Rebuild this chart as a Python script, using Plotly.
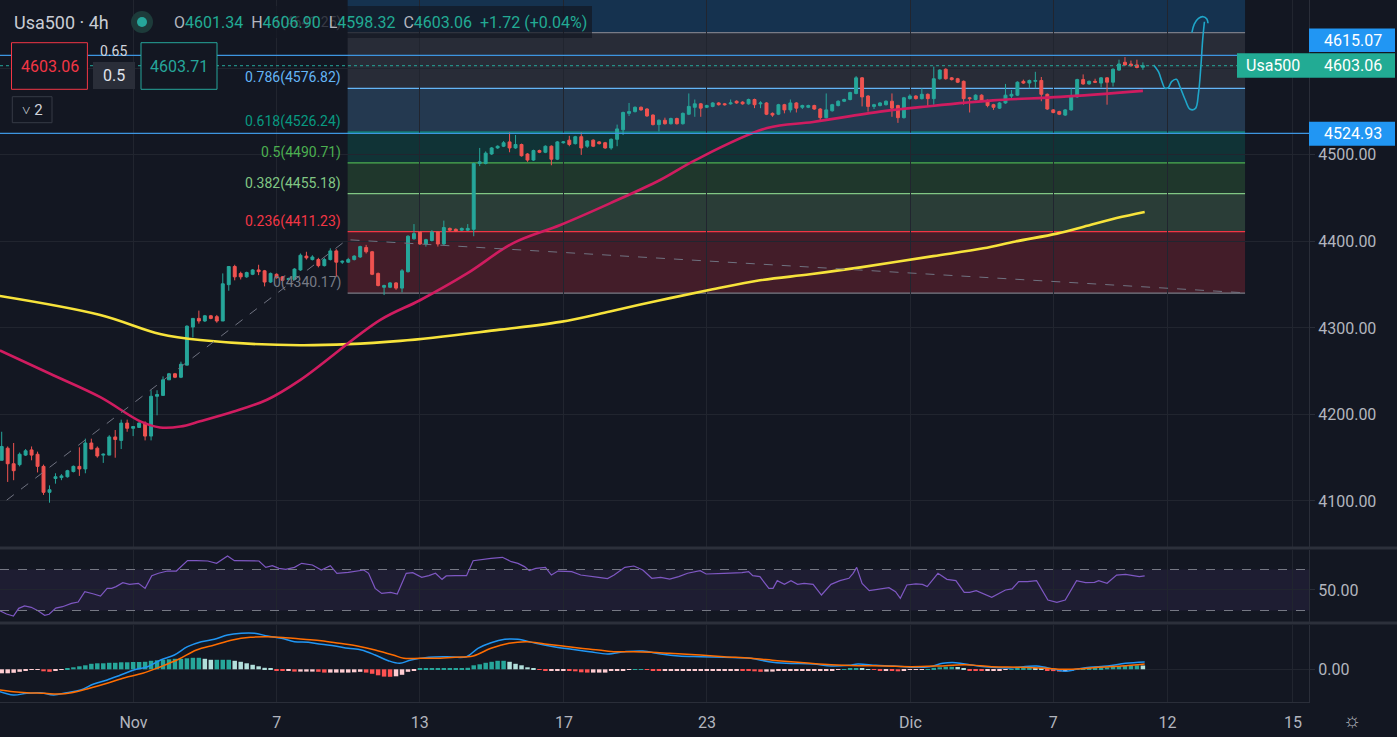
import plotly.graph_objects as go

# ---- 4h candles (bar index 0 = first visible bar) ----
opens = [4147, 4161, 4143, 4142, 4153, 4159, 4154, 4140, 4110, 4126,
         4127, 4128, 4134, 4140, 4137, 4167, 4161, 4153, 4153, 4174,
         4170, 4190, 4184, 4185, 4190, 4175, 4221, 4222, 4240, 4247,
         4243, 4257, 4301, 4311, 4308, 4314, 4313, 4308, 4350, 4371,
         4363, 4359, 4362, 4367, 4366, 4353, 4362, 4359, 4356, 4356,
         4367, 4383, 4379, 4379, 4372, 4379, 4389, 4376, 4376, 4379,
         4382, 4393, 4388, 4363, 4347, 4347, 4352, 4346, 4365, 4403,
         4411, 4397, 4401, 4411, 4397, 4415, 4414, 4413, 4413, 4414,
         4490, 4490, 4501, 4508, 4510, 4515, 4508, 4512, 4501, 4494,
         4505, 4503, 4510, 4495, 4514, 4517, 4513, 4521, 4510, 4517,
         4515, 4514, 4508, 4518, 4529, 4548, 4550, 4555, 4553, 4546,
         4535, 4540, 4536, 4542, 4536, 4547, 4555, 4559, 4555, 4556,
         4560, 4559, 4559, 4562, 4561, 4559, 4564, 4559, 4560, 4548,
         4547, 4558, 4552, 4560, 4555, 4555, 4557, 4553, 4543, 4551,
         4557, 4562, 4564, 4571, 4589, 4568, 4556, 4557, 4558, 4562,
         4557, 4543, 4565, 4568, 4565, 4570, 4565, 4588, 4599, 4589,
         4588, 4585, 4566, 4564, 4569, 4563, 4558, 4554, 4560, 4568,
         4569, 4585, 4583, 4585, 4586, 4570, 4552, 4550, 4546, 4552,
         4567, 4587, 4582, 4585, 4583, 4589, 4584, 4598, 4607, 4605,
         4604, 4601.34]
highs = [4180, 4163, 4167, 4156, 4160, 4163, 4157, 4142, 4118, 4132,
         4131, 4136, 4141, 4162, 4172, 4172, 4163, 4155, 4176, 4182,
         4194, 4194, 4186, 4191, 4192, 4228, 4228, 4244, 4248, 4248,
         4261, 4303, 4311, 4320, 4315, 4315, 4315, 4363, 4371, 4373,
         4365, 4365, 4368, 4373, 4367, 4364, 4363, 4360, 4358, 4369,
         4386, 4388, 4384, 4381, 4381, 4392, 4391, 4378, 4381, 4384,
         4395, 4396, 4389, 4364, 4350, 4353, 4353, 4368, 4407, 4420,
         4412, 4403, 4413, 4412, 4424, 4416, 4415, 4416, 4420, 4491,
         4508, 4504, 4509, 4511, 4516, 4526, 4523, 4513, 4502, 4506,
         4506, 4511, 4511, 4516, 4516, 4522, 4522, 4526, 4517, 4518,
         4516, 4515, 4519, 4535, 4550, 4560, 4556, 4556, 4554, 4547,
         4541, 4543, 4543, 4543, 4549, 4571, 4564, 4560, 4558, 4561,
         4561, 4560, 4564, 4563, 4562, 4565, 4565, 4562, 4561, 4549,
         4559, 4559, 4564, 4561, 4558, 4558, 4558, 4554, 4571, 4559,
         4563, 4565, 4573, 4591, 4590, 4569, 4559, 4561, 4563, 4571,
         4558, 4567, 4570, 4569, 4577, 4571, 4602, 4599, 4600, 4590,
         4589, 4586, 4567, 4570, 4570, 4564, 4559, 4561, 4582, 4575,
         4585, 4587, 4587, 4596, 4590, 4571, 4553, 4551, 4553, 4577,
         4588, 4593, 4586, 4588, 4590, 4590, 4600, 4610, 4613, 4609,
         4610, 4606.90]
lows = [4147, 4122, 4124, 4140, 4152, 4147, 4133, 4107, 4098, 4120,
        4124, 4127, 4133, 4129, 4132, 4160, 4150, 4144, 4153, 4150,
        4160, 4180, 4175, 4185, 4170, 4170, 4199, 4222, 4240, 4242,
        4242, 4257, 4289, 4305, 4307, 4310, 4306, 4308, 4343, 4355,
        4356, 4358, 4361, 4361, 4348, 4352, 4357, 4354, 4355, 4355,
        4366, 4379, 4378, 4370, 4371, 4378, 4359, 4374, 4375, 4378,
        4381, 4386, 4361, 4348, 4338, 4346, 4344, 4341, 4364, 4402,
        4396, 4394, 4400, 4394, 4396, 4412, 4411, 4412, 4412, 4406,
        4487, 4489, 4500, 4507, 4509, 4503, 4507, 4498, 4492, 4493,
        4502, 4502, 4488, 4494, 4513, 4510, 4512, 4500, 4508, 4509,
        4512, 4507, 4506, 4510, 4523, 4545, 4549, 4551, 4544, 4534,
        4527, 4535, 4535, 4535, 4535, 4546, 4544, 4544, 4554, 4555,
        4557, 4557, 4558, 4559, 4558, 4558, 4554, 4554, 4546, 4544,
        4546, 4548, 4549, 4549, 4553, 4554, 4552, 4540, 4542, 4550,
        4556, 4561, 4563, 4570, 4556, 4550, 4553, 4556, 4557, 4544,
        4537, 4542, 4564, 4564, 4564, 4556, 4558, 4587, 4587, 4586,
        4583, 4558, 4549, 4563, 4561, 4555, 4552, 4553, 4559, 4564,
        4568, 4582, 4577, 4577, 4562, 4552, 4548, 4546, 4545, 4551,
        4566, 4581, 4581, 4583, 4578, 4558, 4579, 4597, 4603, 4602,
        4600, 4598.32]
closes = [4163, 4143, 4135, 4154, 4158, 4153, 4140, 4110, 4113, 4128,
          4129, 4135, 4140, 4137, 4167, 4160, 4152, 4154, 4174, 4171,
          4190, 4184, 4186, 4190, 4175, 4221, 4223, 4240, 4247, 4243,
          4258, 4302, 4311, 4308, 4314, 4311, 4308, 4351, 4371, 4359,
          4359, 4364, 4367, 4365, 4353, 4363, 4358, 4355, 4357, 4368,
          4384, 4381, 4382, 4372, 4379, 4389, 4376, 4377, 4379, 4383,
          4394, 4388, 4362, 4349, 4349, 4352, 4346, 4366, 4406, 4409,
          4397, 4402, 4411, 4397, 4416, 4413, 4412, 4415, 4415, 4490,
          4492, 4502, 4508, 4510, 4514, 4508, 4512, 4499, 4494, 4505,
          4503, 4510, 4495, 4515, 4515, 4512, 4521, 4508, 4516, 4510,
          4513, 4508, 4518, 4530, 4549, 4550, 4555, 4552, 4545, 4535,
          4540, 4536, 4542, 4536, 4548, 4556, 4559, 4554, 4557, 4560,
          4558, 4558, 4560, 4560, 4559, 4564, 4558, 4560, 4547, 4546,
          4558, 4552, 4560, 4554, 4557, 4557, 4553, 4543, 4552, 4558,
          4562, 4564, 4572, 4589, 4567, 4556, 4558, 4560, 4562, 4554,
          4543, 4566, 4568, 4565, 4570, 4565, 4588, 4598, 4588, 4587,
          4584, 4565, 4565, 4569, 4562, 4557, 4555, 4560, 4569, 4570,
          4584, 4583, 4586, 4586, 4570, 4553, 4549, 4547, 4552, 4568,
          4587, 4582, 4585, 4584, 4589, 4584, 4599, 4605, 4604, 4603,
          4601, 4603.06]

# ---- moving averages (sampled along the drawn curves) ----
ma_fast_x = [-0.3, 8.1, 16.5, 23.2, 26.5, 29.9, 33.2, 38.7, 44.4, 50.0, 63.3, 70.0,
             77.9, 85.6, 93.5, 101.8, 110.2, 116.1, 128.1, 135.8, 147.0, 154.9, 165.9,
             177.2, 191.0]
ma_fast = [4274, 4247, 4220, 4192, 4185, 4186, 4192, 4203, 4217, 4240, 4309, 4332,
           4363, 4398, 4419, 4444, 4471, 4494, 4531, 4538, 4550, 4556, 4563,
           4567, 4574]
ma_slow_x = [-0.3, 16.5, 26.5, 33.2, 50.0, 66.7, 83.4, 93.5, 101.8, 110.2, 118.6,
             126.9, 135.3, 143.7, 155.9, 164.3, 169.7, 176.6, 181.1, 186.6, 191.3]
ma_slow = [4337, 4315, 4293, 4286, 4280, 4285, 4298, 4307, 4319, 4332, 4344,
           4355, 4362, 4370, 4383, 4392, 4400, 4409, 4417, 4427, 4434]

# ---- RSI ----
rsi_x = [-0.3, 0.8, 1.96, 2.85, 3.83, 4.95, 6.07, 7.19, 7.93, 9.06, 10.18, 11.67, 12.79,
         13.91, 15.41, 16.53, 17.65, 18.4, 19.14, 20.27, 21.39, 22.88, 24.0, 25.12, 26.24,
         27.74, 29.23, 31.1, 32.6, 34.5, 35.96, 37.8, 38.95, 40.8, 43.06, 44.2, 45.3, 46.4,
         47.54, 49.0, 50.2, 52.0, 53.5, 55.0, 56.1, 58.0, 59.5, 60.6, 61.4, 62.5, 63.6, 65.1,
         66.2, 67.7, 68.8, 70.3, 71.5, 72.6, 73.7, 74.4, 75.9, 77.8, 78.9, 80.4, 81.9, 83.8,
         85.3, 86.4, 87.5, 88.3, 89.4, 91.0, 92.0, 93.1, 95.4, 96.9, 98.4, 99.9, 101.4, 102.5,
         104.3, 105.8, 107.3, 108.8, 110.3, 111.8, 113.3, 114.8, 116.9,
         117.9, 120.9, 123.9, 125.0, 125.7, 126.9, 128.4, 129.1, 129.8, 131.0, 132.1, 133.2,
         134.3, 135.8, 137.2, 138.8, 140.3, 141.8, 142.5, 143.1, 144.0, 145.2, 147.0, 148.5,
         149.6, 150.4, 151.5, 153.0, 154.1, 154.9, 156.7, 158.2, 159.7, 161.1, 162.0, 163.1,
         165.7, 168.0, 169.1, 170.2, 171.7, 173.2, 175.1, 176.6, 178.0, 179.9, 181.4, 182.9,
         183.6, 185.0, 186.6, 188.1, 190.4, 191.3]
rsi = [29.8, 26.6, 24.6, 32.1, 34.4, 33.1, 29.8, 25.3, 26.3, 32.4, 33.7, 37.0, 38.3,
       48.4, 46.1, 44.1, 51.6, 51.6, 53.3, 57.2, 55.5, 56.5, 51.6, 64.0, 66.3,
       68.5, 68.5, 78.6, 78.6, 78.3, 76.0, 83.2, 78.6, 78.6, 78.3, 72.1, 73.7, 71.1,
       70.2, 72.1, 76.0, 74.4, 69.5, 73.7, 66.3, 67.2, 68.5, 69.5, 66.3, 51.6, 46.7, 47.7,
       46.1, 66.3, 66.9, 62.4, 64.0, 66.3, 60.4, 63.7, 64.0, 64.0, 78.6, 79.9, 80.9, 81.9,
       77.6, 76.0, 72.8, 68.9, 71.1, 72.1, 64.6, 68.5, 67.9, 64.6, 63.7, 62.4, 61.1, 64.6,
       72.1, 73.4, 69.5, 61.4, 62.4, 60.7, 63.0, 66.3, 68.9,
       65.6, 66.3, 66.9, 67.9, 64.0, 63.0, 51.6, 51.6, 59.1, 55.5, 59.1, 55.5,
       56.5, 55.5, 45.1, 55.5, 59.1, 61.4, 66.3, 72.1, 56.5, 49.3, 50.7, 52.3,
       48.4, 41.9, 54.9, 55.9, 55.5, 53.3, 66.3, 60.4, 59.1, 47.7, 47.7, 49.3,
       42.8, 50.0, 51.0, 58.1, 58.1, 59.1, 40.2, 38.0, 40.2, 59.1, 57.2, 57.5,
       59.1, 56.5, 64.6, 65.3, 63.0, 63.7]

# ---- MACD ----
macd_x = [-0.3, 1.96, 4.2, 6.4, 8.7, 10.9, 13.2, 15.4, 17.65, 19.9, 22.1, 24.4, 26.6, 28.9,
          31.1, 33.4, 35.6, 37.8, 40.1, 42.3, 44.5, 46.8, 49.0, 51.3, 53.5, 55.8, 58.0, 60.2,
          62.5, 64.7, 66.6, 68.5, 71.5, 74.4, 77.8, 79.7, 81.9, 84.2, 86.4, 89.4, 92.4, 95.4,
          98.4, 101.4, 104.3, 107.3, 110.3, 113.3, 116.9,
          120.9, 125.4, 128.4, 131.3, 135.8, 138.8, 141.8, 143.3, 146.3, 149.3, 152.3, 155.3,
          157.5, 159.7, 162.7, 165.7, 168.7, 173.2, 176.2, 178.0, 179.9, 182.1, 185.1, 188.1,
          191.3]
macd = [-22.4, -25.7, -24.0, -23.4, -25.7, -23.4, -20.7, -14.7, -10.7, -5.7, -0.7, 2.6, 9.3,
        14.3, 22.6, 27.6, 30.0, 34.3, 36.0, 36.0, 33.3, 31.0, 27.6, 27.0, 25.0, 23.3, 21.0,
        19.3, 14.3, 8.6, 6.0, 9.3, 12.0, 12.6, 12.6, 21.0, 26.6, 30.0, 30.0, 26.0, 22.6, 20.0,
        17.6, 15.3, 17.6, 18.3, 15.3, 13.3, 12.6,
        12.0, 11.0, 7.6, 6.0, 5.3, 3.3, 4.0, 5.3, 4.0, 3.3, 2.0, 2.6,
        6.0, 6.6, 4.0, 2.0, 1.3, 3.3, 0.0, -2.0, 0.0, 2.0, 3.3, 6.0, 7.3]
signal_x = [-0.3, 1.96, 4.2, 7.2, 9.4, 11.7, 14.7, 17.65, 20.6, 23.6, 26.6, 29.6, 32.6, 35.6,
            38.6, 41.6, 44.5, 47.5, 50.5, 53.5, 56.5, 59.5, 62.5, 65.5, 67.3, 70.0, 73.0, 75.9,
            78.9, 81.9, 84.9, 87.9, 90.9, 93.9, 96.9, 99.9, 102.8, 105.8, 108.8, 111.8, 116.9,
            120.9, 125.4, 129.8, 134.3, 138.8, 143.3, 147.8, 152.3, 156.7, 161.2, 165.7, 170.2,
            174.7, 177.7, 180.7, 183.6, 187.4, 191.3]
signal = [-20.7, -22.4, -23.4, -24.0, -24.7, -23.4, -19.0, -14.0, -8.4, -4.0, 2.6, 10.0, 19.3,
          24.3, 29.3, 32.0, 32.6, 31.6, 30.0, 28.6, 26.0, 23.3, 19.3, 14.3, 11.0, 11.0, 11.0,
          12.0, 13.3, 21.0, 26.0, 27.6, 25.3, 23.3, 21.0, 19.3, 17.6, 17.6, 17.0, 16.0, 14.3,
          12.6, 11.0, 8.6, 6.6, 4.6, 3.6, 3.3, 2.6, 3.3, 4.6, 2.6, 2.0,
          1.0, 0.0, 0.6, 2.0, 3.3, 5.3]
hist = [-4, -4, -3.5, -2.5, -1, -0.5, -0.5, -2, -2.5, -1.5,
        -0.5, 1, 2, 3, 4, 5.5, 6, 6, 6.5, 6.5,
        7, 7, 7.3, 7.3, 7.5, 8.5, 9, 9.5, 10, 10.5,
        10.5, 11, 11.5, 11.5, 10.5, 9.5, 9.5, 9.5, 9.5, 8.5,
        7.5, 6, 4.5, 3, 1.5, 0.5, -1, -1.7, -1.7, -2.3,
        -2.3, -2.3, -2.3, -2.5, -3.3, -3.3, -3.3, -3.3, -3.3, -3,
        -2.5, -3.3, -4.5, -6, -7.3, -7.5, -7, -5.5, -2.5, -1,
        0.5, 1, 1, 1, 1, 1, 1, 1, 1.5, 4,
        5, 6.5, 7.5, 8.5, 8.5, 7.5, 5.5, 4, 2, 0.5,
        -0.5, -1.3, -1.3, -1.3, -1.3, -1.5, -2, -3, -3.3, -3.3,
        -3.3, -3.3, -1.5, -1.3, -1, -0.5, 0.3, 0.3, -0.5, -1.3,
        -1.7, -1.7, -1.7, -1.7, -1.7, -1.5, -1.5, -1, -1, -1,
        -1, -1, -0.8, -0.8, -1, -1.5, -2, -2.5, -2.3, -2.3,
        -1.5, -1.5, -1.5, -1.5, -1.5, -1.3, -1, -1, -0.8, -0.8,
        -0.5, 0.3, 0.8, 1.2, 1, 0.3, -0.5, -1.5, -1.5, -1.7,
        -2, -1, -0.5, -0.3, -0.3, 0.3, 1.5, 2, 2.5, 2.5,
        2.3, 0.5, -1, -1.5, -1.7, -1.7, -1.3, -1, -0.5, 0.3,
        1, 1.5, 1.5, 1.3, 0.5, -1, -1.8, -2.3, -2, -0.8,
        0.3, 0.8, 1, 1.3, 1.8, 2, 2.5, 3, 3.5, 3.8,
        4, 3.8]

# ---- time axis ----
tick_pos = [22.06, 46.05, 69.95, 94.09, 118.03, 152.1, 176.0, 195.1, 216.1]
tick_text = ['Nov', '7', '13', '17', '23', 'Dic', '7', '12', '15']

# ---- drawings ----
fib_ratios = ['0', '0.236', '0.382', '0.5', '0.618', '0.786', '1']
fib_prices = [4340.17, 4411.23, 4455.18, 4490.71, 4526.24, 4576.82, 4641.25]
fib_colors = ['#787b86', '#f23645', '#81c784', '#4caf50', '#089981', '#64b5f6', '#787b86']
fib_top_color = '#2196f3'
fib_x = [57.9, 208.1]
hline_prices = [4615.07, 4524.93]
last_price = 4603.06
trend_x = [0.84, 57.8, 208.0]
trend_y = [4101, 4402, 4340.6]
brush_x = [192.8, 193.6, 194.2, 194.7, 195.3, 195.8, 196.6, 197.2, 198.1, 198.9, 199.8,
           200.3, 200.7, 201.0, 201.3]
brush_y = [4603.9, 4596.1, 4584.6, 4576.9, 4578.1, 4584.6, 4587.3, 4578.8, 4563.4, 4552.7,
           4553.8, 4571.2, 4601.9, 4632.8, 4653.9]
hook_x = [199.2, 199.6, 200.3, 201.1, 201.7, 201.9]
hook_y = [4641.2, 4651.2, 4657.8, 4659.7, 4657.0, 4652.1]

# ---- style ----
W, H = 1397, 737
PW, PH = 1309, 702
BG = '#131722'
GRID = '#21252f'
TXT = '#b2b5be'
UP, DOWN = '#26a69a', '#ef5350'
FONT = 'Roboto'


def rgba(hex_color, a):
    h = hex_color.lstrip('#')
    return 'rgba(%d,%d,%d,%s)' % (int(h[0:2], 16), int(h[2:4], 16), int(h[4:6], 16), a)


def fx(x):
    return x / PW


def fy(y):
    return (PH - y) / PH


def note(text, x, y, size=16, color=TXT, xanchor='center', **kw):
    return dict(text=text, x=fx(x), y=fy(y), xref='paper', yref='paper', showarrow=False,
                font=dict(family=FONT, size=size, color=color), xanchor=xanchor,
                yanchor='middle', **kw)


def box(x0, y0, x1, y1, fill=None, line=None, layer='above'):
    return dict(type='rect', xref='paper', yref='paper', x0=fx(x0), x1=fx(x1),
                y0=fy(y1), y1=fy(y0), fillcolor=fill or 'rgba(0,0,0,0)',
                line=dict(color=line or 'rgba(0,0,0,0)', width=1), layer=layer)


fig = go.Figure()

fig.add_trace(go.Scatter(x=ma_slow_x, y=ma_slow, mode='lines',
                         line=dict(color='#f7e33b', width=2.6, shape='spline')))
fig.add_trace(go.Scatter(x=ma_fast_x, y=ma_fast, mode='lines',
                         line=dict(color='#d01c60', width=2.6, shape='spline')))
fig.add_trace(go.Scatter(x=trend_x, y=trend_y, mode='lines',
                         line=dict(color='#6f7280', width=1, dash='dash')))
fig.add_trace(go.Candlestick(
    x=list(range(len(closes))), open=opens, high=highs, low=lows, close=closes,
    increasing=dict(line=dict(color=UP, width=1), fillcolor=UP),
    decreasing=dict(line=dict(color=DOWN, width=1), fillcolor=DOWN)))
fig.add_trace(go.Scatter(x=brush_x, y=brush_y, mode='lines',
                         line=dict(color='#1fa6c9', width=1.6, shape='spline')))
fig.add_trace(go.Scatter(x=hook_x, y=hook_y, mode='lines',
                         line=dict(color='#1fa6c9', width=1.6, shape='spline')))

fig.add_trace(go.Scatter(x=rsi_x, y=rsi, mode='lines', xaxis='x2', yaxis='y2',
                         line=dict(color='#7e57c2', width=1.2)))

hist_colors = []
for i, v in enumerate(hist):
    prev = hist[i - 1] if i else v
    if v >= 0:
        hist_colors.append('#26a69a' if v >= prev else '#b2dfdb')
    else:
        hist_colors.append('#ff5252' if v < prev else '#ffcdd2')
fig.add_trace(go.Bar(x=list(range(len(hist))), y=hist, marker_color=hist_colors,
                     marker_line_width=0, xaxis='x3', yaxis='y3'))
fig.add_trace(go.Scatter(x=macd_x, y=macd, mode='lines', xaxis='x3', yaxis='y3',
                         line=dict(color='#2196f3', width=1.5, shape='spline')))
fig.add_trace(go.Scatter(x=signal_x, y=signal, mode='lines', xaxis='x3', yaxis='y3',
                         line=dict(color='#ff6d00', width=1.5, shape='spline')))

shapes = []
# fib zones and levels
zone_edges = fib_prices + [4800]
zone_colors = fib_colors[1:] + [fib_top_color]
for lo, hi, c in zip(zone_edges[:-1], zone_edges[1:], zone_colors):
    shapes.append(dict(type='rect', xref='x', yref='y', x0=fib_x[0], x1=fib_x[1], y0=lo, y1=hi,
                       fillcolor=rgba(c, 0.22), line_width=0, layer='below'))
for p, c in zip(fib_prices, fib_colors):
    shapes.append(dict(type='line', xref='x', yref='y', x0=fib_x[0], x1=fib_x[1], y0=p, y1=p,
                       line=dict(color=c, width=1.3), layer='below'))
for p in hline_prices:
    shapes.append(dict(type='line', xref='paper', yref='y', x0=0, x1=1, y0=p, y1=p,
                       line=dict(color='#3d95e0', width=1.2)))
shapes.append(dict(type='line', xref='paper', yref='y', x0=0, x1=1, y0=last_price, y1=last_price,
                   line=dict(color=UP, width=1, dash='dot')))
# RSI band
shapes.append(dict(type='rect', xref='paper', yref='y2', x0=0, x1=1, y0=30, y1=70,
                   fillcolor='rgba(126,87,194,0.10)', line_width=0, layer='below'))
for lvl in (30, 70):
    shapes.append(dict(type='line', xref='paper', yref='y2', x0=0, x1=1, y0=lvl, y1=lvl,
                       line=dict(color='#787b86', width=1, dash='dash')))
# pane separators
for yy in (548, 623):
    shapes.append(dict(type='line', xref='paper', yref='paper', x0=0, x1=W / PW, y0=fy(yy),
                       y1=fy(yy), line=dict(color='#2c303b', width=3)))

# header + indicator boxes
shapes.append(box(166, 6, 592, 38, fill='rgba(19,23,34,0.72)'))
shapes.append(dict(type='circle', xref='paper', yref='paper', x0=fx(131), x1=fx(153),
                   y0=fy(33), y1=fy(11), fillcolor='#1d3b3a', line_width=0))
shapes.append(dict(type='circle', xref='paper', yref='paper', x0=fx(137), x1=fx(147),
                   y0=fy(27), y1=fy(17), fillcolor=UP, line_width=0))
shapes.append(box(11.5, 42.7, 87.4, 89.3, fill=BG, line='#f23645'))
shapes.append(box(93, 62, 135, 89, fill='#2a2e39'))
shapes.append(box(141, 42.7, 217, 89.3, fill=BG, line=UP))
shapes.append(box(12.3, 96.7, 52, 122.7, fill=BG, line='#363a45'))
# price-axis labels
shapes.append(box(1309, 28.5, 1395, 52, fill='#2196f3'))
shapes.append(box(1237, 53.3, 1395, 77.7, fill='#22ab94'))
shapes.append(box(1309, 121.7, 1395, 145.7, fill='#2196f3'))

ann = []
for r, p, c in zip(fib_ratios, fib_prices, fib_colors):
    ann.append(dict(text='%s(%.2f)' % (r, p), x=57.2, y=p, xref='x', yref='y',
                    xanchor='right', yanchor='bottom', showarrow=False,
                    font=dict(family=FONT, size=14, color=c),
                    opacity=0.35 if r == '1' else 1))

ohlc = ('O<span style="color:#22ab94">4601.34</span>  H<span style="color:#22ab94">4606.90</span>'
        '  L<span style="color:#22ab94">4598.32</span>  C<span style="color:#22ab94">4603.06</span>'
        '  <span style="color:#22ab94">+1.72 (+0.04%)</span>')
ann += [
    note('Usa500 · 4h', 11.5, 22, size=18, color='#c9ccd4', xanchor='left'),
    note(ohlc, 172, 22, size=16, color=TXT, xanchor='left'),
    note('4603.06', 49.5, 66, color='#f23645'),
    note('0.65', 113, 50.5, size=14, color='#d1d4dc'),
    note('0.5', 114, 75.5, color='#e0e3eb'),
    note('4603.71', 179, 66, color=UP),
    note('˅ 2', 32, 110, size=15, color='#d1d4dc'),
    note('4615.07', 1353, 40.3, color='#ffffff'),
    note('Usa500', 1273, 65.5, color='#ffffff'),
    note('4603.06', 1353, 65.5, color='#ffffff'),
    note('4524.93', 1353, 133.7, color='#ffffff'),
    note('☼', 1352, 720, size=20, color=TXT),
]

axis_common = dict(range=[-0.285, 218.8], tickvals=tick_pos, showgrid=True, gridcolor=GRID,
                   zeroline=False, showticklabels=False, ticks='', fixedrange=True)
yaxis_common = dict(side='right', showgrid=True, gridcolor=GRID, zeroline=False,
                    ticks='outside', ticklen=5, tickcolor='#2a2e39', showline=True,
                    linecolor='#2a2e39', tickfont=dict(family=FONT, size=16, color=TXT))

fig.update_layout(
    width=W, height=H, margin=dict(l=0, r=W - PW, t=0, b=H - PH),
    paper_bgcolor=BG, plot_bgcolor=BG, showlegend=False, bargap=0.25,
    xaxis=dict(axis_common, anchor='y', domain=[0, 1], rangeslider=dict(visible=False)),
    xaxis2=dict(axis_common, anchor='y2', matches='x'),
    xaxis3=dict(axis_common, anchor='y3', matches='x', showticklabels=True,
                ticktext=tick_text, ticklabelstandoff=6, showline=True, linecolor='#2a2e39',
                tickfont=dict(family=FONT, size=16, color=TXT)),
    yaxis=dict(yaxis_common, anchor='x', domain=[0.2208, 1], range=[4046.8, 4679.0],
               tickvals=[4100, 4200, 4300, 4400, 4500, 4600],
               ticktext=['4100.00', '4200.00', '4300.00', '4400.00', '4500.00', '']),
    yaxis2=dict(yaxis_common, anchor='x2', domain=[0.1140, 0.2165], range=[18.8, 89.0],
                tickvals=[50], ticktext=['50.00']),
    yaxis3=dict(yaxis_common, anchor='x3', domain=[0, 0.1097], range=[-32.7, 44.3],
                tickvals=[0], ticktext=['0.00']),
    shapes=shapes, annotations=ann,
)

# page body margin would shift the chart; remove it
fig.write_html("out.html", config={'displayModeBar': False},
               post_script="document.body.style.margin='0';document.body.style.background='#131722';")
